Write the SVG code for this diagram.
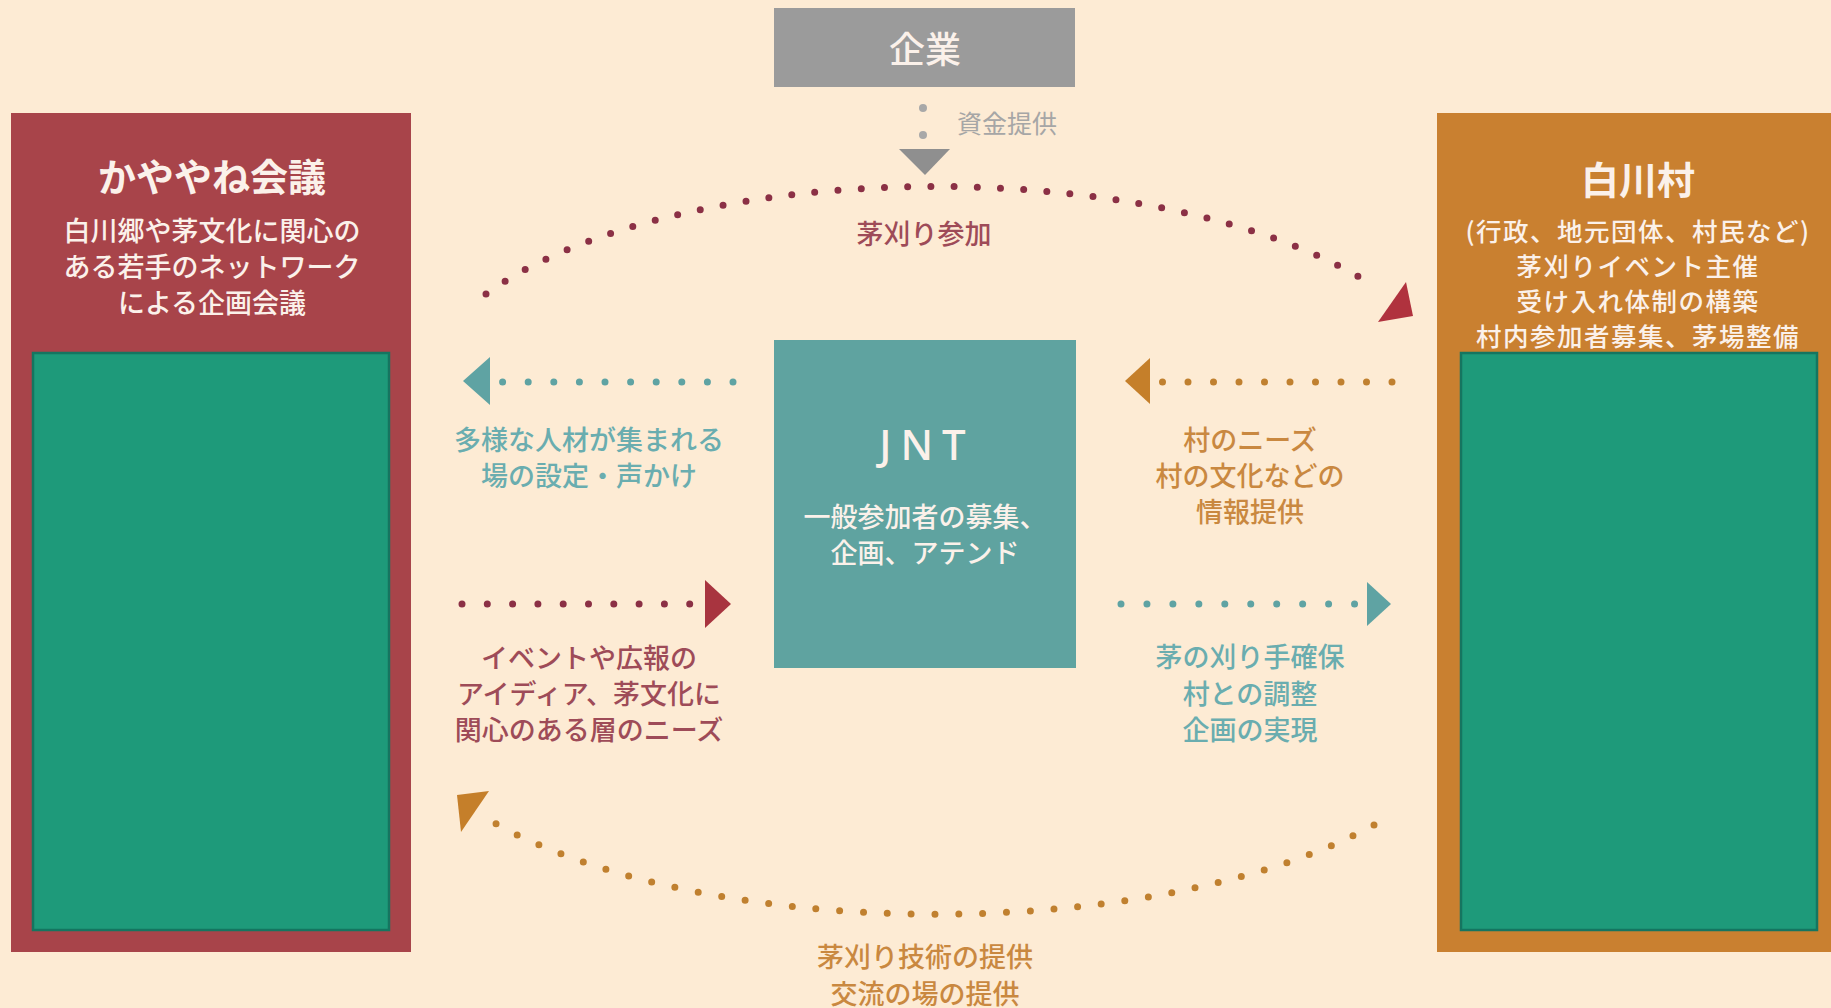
<svg xmlns="http://www.w3.org/2000/svg" width="1831" height="1008" viewBox="0 0 1831 1008">
<style>
text{font-family:"Noto Sans CJK JP","Noto Sans",sans-serif;text-anchor:middle;dominant-baseline:central}
.w{fill:#FBF1EA}
.ttl{font-size:38px;font-weight:700}
.sub{font-size:27px;font-weight:500}
.sub2{font-size:25.5px;font-weight:500;letter-spacing:1.5px}
.lbl{font-size:27px;font-weight:500}
.teal{fill:#6AADAF}
.red{fill:#9E4B58}
.ora{fill:#C98840}
.dotR{fill:none;stroke:#8B3045;stroke-width:7;stroke-linecap:round}
.dotT{fill:none;stroke:#5FA3A3;stroke-width:7;stroke-linecap:round}
.dotO{fill:none;stroke:#C0802F;stroke-width:7;stroke-linecap:round}
.inner{fill:#1E9A7A;stroke:#157560;stroke-width:2.5}
</style>
<rect x="0" y="0" width="1831" height="1008" fill="#FDEBD4"/>

<g id="kayayane">
<rect x="11" y="113" width="400" height="839" fill="#A8444A"/>
<rect x="33" y="353" width="356" height="577" class="inner"/>
<text class="w ttl" x="212" y="174">かややね会議</text>
<text class="w sub" x="212" y="229">白川郷や茅文化に関心の</text>
<text class="w sub" x="212" y="265">ある若手のネットワーク</text>
<text class="w sub" x="212" y="301">による企画会議</text>
</g>

<g id="shirakawa">
<rect x="1437" y="113" width="394" height="839" fill="#C98030"/>
<text class="w ttl" x="1638" y="177">白川村</text>
<text class="w sub2" x="1638" y="229">(行政、地元団体、村民など)</text>
<text class="w sub2" x="1638" y="264">茅刈りイベント主催</text>
<text class="w sub2" x="1638" y="299">受け入れ体制の構築</text>
<text class="w sub2" x="1638" y="334">村内参加者募集、茅場整備</text>
<rect x="1461" y="353" width="356" height="577" class="inner"/>
</g>

<g id="kigyo">
<rect x="774" y="8" width="301" height="79" fill="#9B9B9B"/>
<text class="w" x="925" y="47" style="font-size:36px;font-weight:500">企業</text>
</g>

<g id="jnt">
<rect x="774" y="340" width="302" height="328" fill="#5FA3A0"/>
<text class="w" x="927" y="443" style="font-family:'Noto Sans',sans-serif;font-size:42px;font-weight:500;letter-spacing:9px">JNT</text>
<text class="w sub" x="925" y="515">一般参加者の募集、</text>
<text class="w sub" x="925" y="551">企画、アテンド</text>
</g>

<g id="connectors">
<!-- funding -->
<circle cx="923" cy="108" r="4" fill="#A8A8A8"/>
<circle cx="923" cy="135" r="4" fill="#A8A8A8"/>
<polygon points="899,149 950,149 925,175" fill="#8F8F8F"/>
<!-- top arc -->
<path class="dotR" d="M486,294 A515,210 0 0,1 1375,287" stroke-dasharray="0 23.2"/>
<polygon points="1406,282 1413,316 1378,322" fill="#B0323E"/>
<!-- bottom arc -->
<path class="dotO" d="M1374,825 A540,215 0 0,1 486,818" stroke-dasharray="0 23.8"/>
<polygon points="457,795 489,791 461,832" fill="#C57F2A"/>
<!-- JNT -> kayayane -->
<line class="dotT" x1="733" y1="382" x2="502" y2="382" stroke-dasharray="0 25.6"/>
<polygon points="463,381 490,357 490,405" fill="#5FA3A3"/>
<!-- kayayane -> JNT -->
<line class="dotR" x1="462" y1="604" x2="690" y2="604" stroke-dasharray="0 25.3"/>
<polygon points="705,580 731,604 705,628" fill="#A8343F"/>
<!-- shirakawa -> JNT -->
<line class="dotO" x1="1392" y1="382" x2="1162" y2="382" stroke-dasharray="0 25.5"/>
<polygon points="1125,381 1150,358 1150,404" fill="#C57F2A"/>
<!-- JNT -> shirakawa -->
<line class="dotT" x1="1121" y1="604" x2="1355" y2="604" stroke-dasharray="0 25.95"/>
<polygon points="1367,582 1391,604 1367,626" fill="#5FA3A3"/>
</g>

<g id="labels">
<text x="1007" y="122" style="font-size:25px;fill:#A6A6A6">資金提供</text>
<text class="lbl red" x="924" y="232">茅刈り参加</text>
<text class="lbl teal" x="589" y="438">多様な人材が集まれる</text>
<text class="lbl teal" x="589" y="474">場の設定・声かけ</text>
<text class="lbl red" x="589" y="656">イベントや広報の</text>
<text class="lbl red" x="589" y="692">アイディア、茅文化に</text>
<text class="lbl red" x="589" y="728">関心のある層のニーズ</text>
<text class="lbl ora" x="1250" y="438">村のニーズ</text>
<text class="lbl ora" x="1250" y="474">村の文化などの</text>
<text class="lbl ora" x="1250" y="510">情報提供</text>
<text class="lbl teal" x="1250" y="655">茅の刈り手確保</text>
<text class="lbl teal" x="1250" y="692">村との調整</text>
<text class="lbl teal" x="1250" y="728">企画の実現</text>
<text class="lbl ora" x="925" y="955">茅刈り技術の提供</text>
<text class="lbl ora" x="925" y="992">交流の場の提供</text>
</g>
</svg>
